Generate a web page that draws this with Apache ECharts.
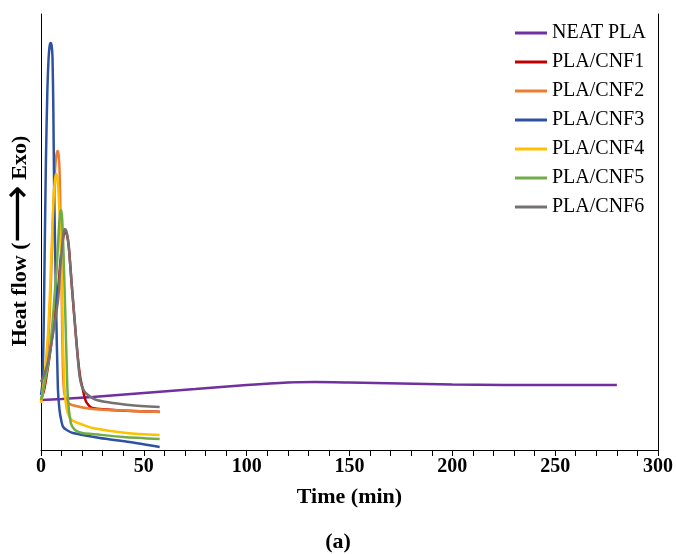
<!DOCTYPE html>
<html>
<head>
<meta charset="utf-8">
<script src="https://cdn.jsdelivr.net/npm/echarts@6/dist/echarts.min.js"></script>
<style>html,body{margin:0;padding:0;background:#fff;}#c{width:676px;height:554px;}</style>
</head>
<body>
<div id="c"></div>
<script>
// Data: [time (min), heat flow (arbitrary units)]
var seriesNames = ['NEAT PLA', 'PLA/CNF1', 'PLA/CNF2', 'PLA/CNF3', 'PLA/CNF4', 'PLA/CNF5', 'PLA/CNF6'];
var xTicks = [0, 50, 100, 150, 200, 250, 300];

var neatPLA = [[0,50],[10,51],[25,53],[50,57],[75,61],[100,65],[120,67.5],[133,68],[150,67.5],[175,66.5],[200,65.5],[225,65],[250,65],[280,65]];
var cnf1 = [[0,50],[1.5,60],[3,78],[4.8,103],[6.8,137],[8.4,163],[9.5,190],[10.5,208],[11.5,218],[12.5,216],[13.5,204],[14.9,166],[17.3,106],[18.9,75],[20.4,60],[22,48],[25,42],[41.7,39.3],[57.7,38.3]];
var cnf2 = [[0,48],[1.5,65],[3,95],[4.2,135],[5.2,190],[6,243],[7,285],[7.6,296],[8.1,299],[8.6,295],[9.1,275],[9.6,220],[10.1,150],[10.6,85],[11.3,57],[13,48],[15,45],[25,41],[40,39.5],[57.7,38]];
var cnf3 = [[0,55],[0.6,65],[1.2,110],[1.8,200],[2.4,290],[3.1,360],[3.7,392],[4.2,404],[4.7,407],[5.2,404],[5.6,392],[6,340],[6.4,260],[7.3,150],[8.2,62],[9,40],[10,28],[10.8,23],[12.5,20],[15.5,17],[28.6,12],[43,8],[57.7,3]];
var cnf4 = [[0,47],[1.5,70],[2.6,95],[3.5,120],[4.5,165],[5.3,210],[6.2,255],[6.8,270],[7.3,276],[7.9,272],[8.5,258],[9.5,215],[10.2,160],[10.8,100],[11.5,60],[12.6,40],[15,30],[20,25.5],[25,22],[41.7,17],[57.7,15]];
var cnf5 = [[0,50],[0.6,55],[2,70],[3.8,90],[5.5,125],[6.8,160],[7.6,180],[8.6,218],[9.2,235],[9.7,240],[10.2,234],[10.7,212],[11.2,180],[11.7,145],[12.3,100],[13,55],[14.5,27],[16.5,20],[20,17],[25,16],[40,13],[57.7,11]];
var cnf6 = [[0,68],[1.5,75],[3,85],[4.5,100],[6,118],[7.3,135],[8.4,152],[9.2,177],[10.3,205],[11,217],[11.6,221],[12.3,219],[13,212],[13.7,198],[14.9,167],[17.3,107],[18.9,72],[21.3,58],[27,50],[43,45],[57.7,43]];

var allData = [neatPLA, cnf1, cnf2, cnf3, cnf4, cnf5, cnf6];
var colors = ['#7030A0', '#C00000', '#ED7D31', '#2F52A0', '#FFC000', '#70AD47', '#767171'];

var FONT = 'Liberation Serif';
var chart = echarts.init(document.getElementById('c'), null, {renderer: 'canvas'});

var series = allData.map(function (d, i) {
  return {
    name: seriesNames[i],
    type: 'line',
    data: d,
    showSymbol: false,
    smooth: 0.25,
    lineStyle: {width: 2.5, color: colors[i]},
    itemStyle: {color: colors[i]},
    z: 2 + i
  };
});

chart.setOption({
  animation: false,
  backgroundColor: '#fff',
  title: {
    text: '(a)', left: 'center', top: 526,
    textStyle: {fontFamily: FONT, fontWeight: 'bold', fontSize: 22, color: '#000'}
  },
  legend: {
    orient: 'vertical',
    left: 510, top: 18,
    itemWidth: 32, itemHeight: 3, itemGap: 9,
    icon: 'rect',
    textStyle: {fontFamily: FONT, fontSize: 20, color: '#000', lineHeight: 20},
    data: seriesNames
  },
  graphic: [{
    type: 'text', x: 20, y: 241, rotation: Math.PI / 2,
    style: {
      text: '{t|Heat flow (}{a|\u27F6}{t| Exo)}',
      align: 'center', verticalAlign: 'middle',
      rich: {
        t: {fontFamily: FONT, fontWeight: 'bold', fontSize: 22, fill: '#000', color: '#000'},
        a: {fontFamily: 'DejaVu Sans', fontWeight: 'normal', fontSize: 40, fill: '#000', color: '#000'}
      }
    }
  }],
  grid: {left: 41, right: 16, top: 14, bottom: 104, containLabel: false},
  xAxis: {
    type: 'value', min: 0, max: 300, interval: 50,
    name: 'Time (min)', nameLocation: 'middle', nameGap: 36,
    nameTextStyle: {fontFamily: FONT, fontWeight: 'bold', fontSize: 22, color: '#000'},
    axisLine: {lineStyle: {color: '#000', width: 1}},
    axisTick: {show: true, inside: false, length: 6, lineStyle: {color: '#000'}},
    minorTick: {show: true, splitNumber: 5, length: 6, lineStyle: {color: '#000'}},
    axisLabel: {fontFamily: FONT, fontWeight: 'bold', fontSize: 20, color: '#000', margin: 7,
      formatter: function (v) { return xTicks.indexOf(v) >= 0 ? String(v) : ''; }},
    splitLine: {show: false}
  },
  yAxis: [{
    type: 'value', min: 0, max: 436,
    axisLine: {show: true, lineStyle: {color: '#000', width: 1}},
    axisTick: {show: false}, axisLabel: {show: false}, splitLine: {show: false}
  }, {
    type: 'value', min: 0, max: 436, position: 'right',
    axisLine: {show: true, lineStyle: {color: '#000', width: 1}},
    axisTick: {show: false}, axisLabel: {show: false}, splitLine: {show: false}
  }],
  series: series
});
</script>
</body>
</html>
